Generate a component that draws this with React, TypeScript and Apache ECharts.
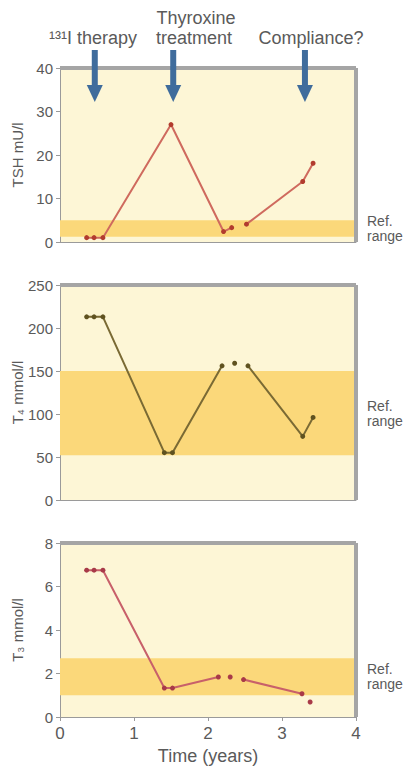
import React, { useEffect, useRef } from "react";
import * as echarts from "echarts";

// ---- data ----
const tshYears = [0.36, 0.46, 0.58, 1.5, 2.21, 2.32, 2.52, 3.28, 3.42];
const tshValues = [1.0, 1.0, 1.0, 27, 2.4, 3.3, 4.1, 13.9, 18.1];
const tshSegments = [[0, 5], [6, 8]];
const tshRef = [1.2, 5];

const t4Years = [0.36, 0.46, 0.58, 1.41, 1.52, 2.19, 2.36, 2.54, 3.28, 3.42];
const t4Values = [213, 213, 213, 55, 55, 156, 159, 156, 74, 96];
const t4Segments = [[0, 5], [6, 6], [7, 9]];
const t4Ref = [52, 150];

const t3Years = [0.36, 0.46, 0.58, 1.41, 1.52, 2.14, 2.3, 2.48, 3.27, 3.38];
const t3Values = [6.75, 6.75, 6.75, 1.33, 1.33, 1.84, 1.84, 1.72, 1.07, 0.69];
const t3Segments = [[0, 5], [6, 6], [7, 8], [9, 9]];
const t3Ref = [1.0, 2.7];

const xTicks = { min: 0, max: 4, interval: 1 };
const tshAxis = { min: 0, max: 40, interval: 10, name: "TSH mU/l" };
const t4Axis = { min: 0, max: 250, interval: 50, name: "T\u2084 mmol/l" };
const t3Axis = { min: 0, max: 8, interval: 2, name: "T\u2083 mmol/l" };

const eventYears = [0.47, 1.53, 3.31];

const FONT = "'Liberation Sans', Arial, sans-serif";
const TEXT = "#5a5a5a";

const panels = [
  { years: tshYears, values: tshValues, segs: tshSegments, ref: tshRef, axis: tshAxis, line: "#cf6a5e", dot: "#b23c2e", top: 68, height: 174 },
  { years: t4Years, values: t4Values, segs: t4Segments, ref: t4Ref, axis: t4Axis, line: "#7a6a34", dot: "#5f5220", top: 285, height: 215 },
  { years: t3Years, values: t3Values, segs: t3Segments, ref: t3Ref, axis: t3Axis, line: "#c8606a", dot: "#a83a48", top: 543, height: 174 },
];

export default function App() {
  const ref = useRef<HTMLDivElement>(null);
  useEffect(() => {
    if (!ref.current) return;
    const chart = echarts.init(ref.current, null, { renderer: "svg" });
    const grids: any[] = [];
    const xAxes: any[] = [];
    const yAxes: any[] = [];
    const series: any[] = [];
    panels.forEach((p, i) => {
      const last = i === panels.length - 1;
      grids.push({
        left: 60, width: 296, top: p.top, height: p.height, show: true,
        backgroundColor: "#fdf6d6", borderWidth: 0, containLabel: false, outerBoundsMode: "none",
      });
      xAxes.push({
        type: "value", gridIndex: i, min: xTicks.min, max: xTicks.max, interval: xTicks.interval,
        axisLine: { show: true, lineStyle: { color: "#9a9a9a", width: 1 } },
        axisTick: { show: last, length: 4, lineStyle: { color: "#9a9a9a" } },
        axisLabel: { show: last, color: TEXT, fontSize: 17, fontFamily: FONT, margin: 8 },
        splitLine: { show: false },
        name: last ? "Time (years)" : "", nameLocation: "middle", nameGap: 30, nameMoveOverlap: false,
        nameTextStyle: { color: TEXT, fontSize: 18, fontFamily: FONT },
      });
      yAxes.push({
        type: "value", gridIndex: i, min: p.axis.min, max: p.axis.max, interval: p.axis.interval,
        axisLine: { show: true, lineStyle: { color: "#9a9a9a", width: 1 } },
        axisTick: { show: true, length: 4, lineStyle: { color: "#9a9a9a" } },
        axisLabel: { color: TEXT, fontSize: 15, fontFamily: FONT, margin: 7 },
        splitLine: { show: false },
        name: p.axis.name, nameLocation: "middle", nameGap: 35, nameRotate: 90, nameMoveOverlap: false,
        nameTextStyle: { color: TEXT, fontSize: 15, fontFamily: FONT },
      });
      p.segs.forEach((s, k) => {
        const data: number[][] = [];
        for (let j = s[0]; j <= s[1]; j++) data.push([p.years[j], p.values[j]]);
        const ser: any = {
          type: "line", xAxisIndex: i, yAxisIndex: i, data,
          symbol: "circle", symbolSize: 5, showSymbol: true,
          lineStyle: { color: p.line, width: 2 },
          itemStyle: { color: p.dot },
          z: 5,
        };
        if (k === 0) {
          ser.markArea = {
            silent: true,
            itemStyle: { color: "#fbd87a" },
            label: { show: true, position: "right", distance: 11, formatter: "Ref.\nrange", color: TEXT, fontSize: 14, fontFamily: FONT, lineHeight: 15, align: "left" },
            data: [[{ yAxis: p.ref[0] }, { yAxis: p.ref[1] }]],
          };
          ser.markLine = {
            silent: true, symbol: "none", animation: false,
            label: { show: false },
            lineStyle: { color: "#a5a5a5", width: 4, type: "solid" },
            data: [{ yAxis: p.axis.max }, { xAxis: xTicks.max }],
          };
        }
        series.push(ser);
      });
    });
    chart.setOption({
      animation: false,
      grid: grids, xAxis: xAxes, yAxis: yAxes, series,
    });
    const arrowColor = "#3f6c9c";
    const graphics: any[] = [];
    eventYears.forEach((yr) => {
      const pt = chart.convertToPixel({ xAxisIndex: 0, yAxisIndex: 0 } as any, [yr, tshAxis.max]) as number[];
      const px = pt[0], top = pt[1];
      graphics.push({ type: "rect", shape: { x: px - 3, y: top - 18, width: 6, height: 38 }, style: { fill: arrowColor }, z: 100 });
      graphics.push({ type: "polygon", shape: { points: [[px - 8, top + 17], [px + 8, top + 17], [px, top + 34]] }, style: { fill: arrowColor }, z: 100 });
    });
    const tstyle = (text: string, x: number, y: number) => ({
      type: "text", x, y, z: 100,
      style: { text, fill: TEXT, font: `18px ${FONT}`, textAlign: "center", textVerticalAlign: "middle" },
    });
    graphics.push(tstyle("\u00B9\u00B3\u00B9I therapy", 93, 38));
    graphics.push(tstyle("Thyroxine", 196, 18));
    graphics.push(tstyle("treatment", 194, 38));
    graphics.push(tstyle("Compliance?", 311, 38));
    chart.setOption({ graphic: graphics });
    return () => chart.dispose();
  }, []);
  return <div ref={ref} style={{ position: "absolute", left: 0, top: 0, width: 407, height: 767, background: "#fff" }} />;
}
